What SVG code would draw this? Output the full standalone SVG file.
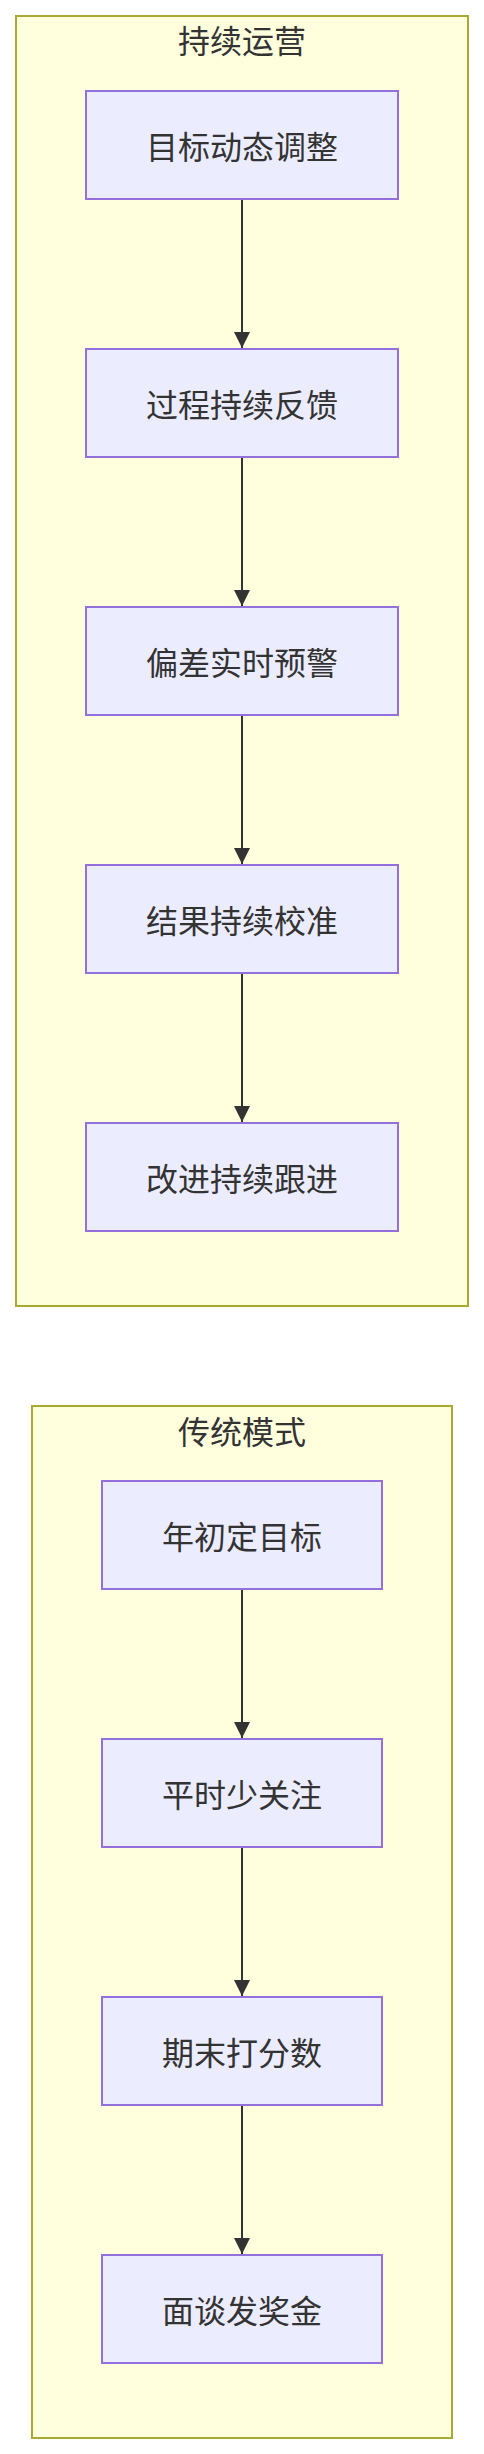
<svg xmlns="http://www.w3.org/2000/svg" width="484" height="2454" viewBox="0 0 484 2454">
<style>
.cluster{fill:#ffffde;stroke:#aaaa33;stroke-width:2}
.node rect{fill:#ECECFF;stroke:#9370DB;stroke-width:2}
text{font-family:"Noto Sans CJK SC","Liberation Sans",sans-serif;font-size:32px;fill:#333;text-anchor:middle;dominant-baseline:central}
.edge{stroke:#333;stroke-width:2;fill:none}
</style>
<defs>
<marker id="arrow" markerUnits="userSpaceOnUse" markerWidth="16" markerHeight="16" viewBox="0 0 16 16" refX="16" refY="8" orient="auto">
<path d="M0,0 L16,8 L0,16 z" fill="#333"/>
</marker>
</defs>
<rect width="484" height="2454" fill="#ffffff"/>
<g id="cluster-ops">
<rect class="cluster" x="16" y="16" width="452" height="1290"/>
<text x="242" y="39">持续运营</text>
</g>
<g id="cluster-trad">
<rect class="cluster" x="32" y="1406" width="420" height="1032"/>
<text x="242" y="1429.5">传统模式</text>
</g>
<g id="edges">
<line class="edge" x1="242" y1="199" x2="242" y2="348" marker-end="url(#arrow)"/>
<line class="edge" x1="242" y1="457" x2="242" y2="606" marker-end="url(#arrow)"/>
<line class="edge" x1="242" y1="715" x2="242" y2="864" marker-end="url(#arrow)"/>
<line class="edge" x1="242" y1="973" x2="242" y2="1122" marker-end="url(#arrow)"/>
<line class="edge" x1="242" y1="1589" x2="242" y2="1738" marker-end="url(#arrow)"/>
<line class="edge" x1="242" y1="1847" x2="242" y2="1996" marker-end="url(#arrow)"/>
<line class="edge" x1="242" y1="2105" x2="242" y2="2254" marker-end="url(#arrow)"/>
</g>
<g id="n1" class="node"><rect x="86" y="91" width="312" height="108"/><text x="242" y="145">目标动态调整</text></g>
<g id="n2" class="node"><rect x="86" y="349" width="312" height="108"/><text x="242" y="403">过程持续反馈</text></g>
<g id="n3" class="node"><rect x="86" y="607" width="312" height="108"/><text x="242" y="661">偏差实时预警</text></g>
<g id="n4" class="node"><rect x="86" y="865" width="312" height="108"/><text x="242" y="919">结果持续校准</text></g>
<g id="n5" class="node"><rect x="86" y="1123" width="312" height="108"/><text x="242" y="1177">改进持续跟进</text></g>
<g id="t1" class="node"><rect x="102" y="1481" width="280" height="108"/><text x="242" y="1535">年初定目标</text></g>
<g id="t2" class="node"><rect x="102" y="1739" width="280" height="108"/><text x="242" y="1793">平时少关注</text></g>
<g id="t3" class="node"><rect x="102" y="1997" width="280" height="108"/><text x="242" y="2051">期末打分数</text></g>
<g id="t4" class="node"><rect x="102" y="2255" width="280" height="108"/><text x="242" y="2309">面谈发奖金</text></g>
</svg>
